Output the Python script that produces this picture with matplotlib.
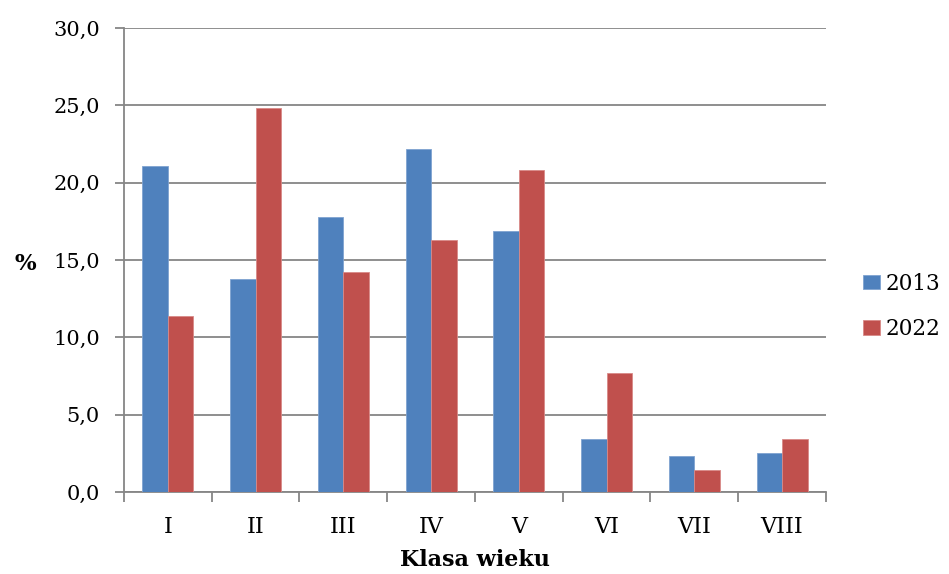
import matplotlib
matplotlib.use("Agg")
import matplotlib.pyplot as plt
import numpy as np

categories = ["I", "II", "III", "IV", "V", "VI", "VII", "VIII"]
series_names = ["2013", "2022"]
values_2013 = [21.1, 13.8, 17.8, 22.2, 16.9, 3.4, 2.3, 2.5]
values_2022 = [11.4, 24.8, 14.2, 16.3, 20.8, 7.7, 1.4, 3.4]
y_ticks = [0, 5, 10, 15, 20, 25, 30]
y_tick_labels = ["0,0", "5,0", "10,0", "15,0", "20,0", "25,0", "30,0"]

plt.rcParams['font.family'] = ['DejaVu Serif']

fig = plt.figure(figsize=(9.49, 5.74), dpi=100)
ax = fig.add_axes([124/949, 1-492/574, (826-124)/949, (492-28)/574])

x = np.arange(len(categories))
w = 0.29
ax.bar(x - w/2, values_2013, w, color="#4F81BD", edgecolor="#7FA3D0", linewidth=0.6, label=series_names[0], zorder=3)
ax.bar(x + w/2, values_2022, w, color="#C0504D", edgecolor="#D88A88", linewidth=0.6, label=series_names[1], zorder=3)

ax.set_xlim(-0.5, len(categories) - 0.5)
ax.set_ylim(0, 30)
ax.set_yticks(y_ticks)
ax.set_yticklabels(y_tick_labels, fontsize=15)
ax.set_xticks(x)
ax.set_xticklabels(categories, fontsize=16)
ax.tick_params(axis='x', which='major', length=0, pad=17)
ax.set_xticks(np.arange(-0.5, len(categories)), minor=True)
ax.tick_params(axis='x', which='minor', length=7, color="#868686", width=1.3)
ax.tick_params(axis='y', length=6.5, color="#868686", width=1.3, pad=11)

ax.grid(axis='y', color="#868686", linewidth=1.3, zorder=0)
for s in ["top", "right"]:
    ax.spines[s].set_visible(False)
for s in ["left", "bottom"]:
    ax.spines[s].set_color("#868686")
    ax.spines[s].set_linewidth(1.3)

ax.set_xlabel("Klasa wieku", fontsize=16, fontweight='bold', labelpad=8)
fig.text(25/949, 1-264/574, "%", fontsize=16.5, fontweight='bold', ha='center', va='center')

leg = ax.legend(loc='center left', bbox_to_anchor=(1.025, 0.40), frameon=False,
                fontsize=15.5, handlelength=0.8, handleheight=0.68, handletextpad=0.25,
                labelspacing=1.1)

fig.savefig("out.png", dpi=100)
